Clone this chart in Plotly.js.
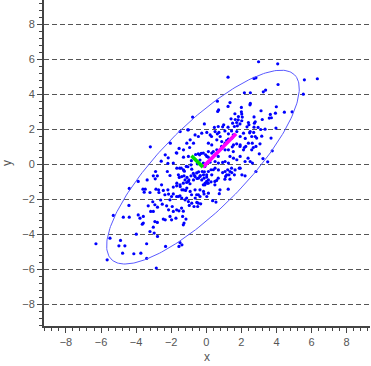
<!DOCTYPE html>
<html>
<head>
<meta charset="utf-8">
<script src="https://cdn.plot.ly/plotly-3.0.1.min.js"></script>
<style>html,body{margin:0;padding:0;background:#fff;}#chart{width:371px;height:366px;}</style>
</head>
<body>
<div id="chart"></div>
<script>
// Scatter points (x, y)
const pointX = [
2.98,4.07,1.24,2.72,2.83,5.59,6.33,4.09,2.17,2.51,3.25,3.38,5.53,0.63,1.35,2.51,2.49,1.24,3.99,2.00,
0.70,0.65,3.12,4.45,4.89,3.94,3.71,1.63,2.00,2.02,1.83,2.05,1.41,2.72,3.59,3.65,3.19,1.65,2.79,2.40,
2.02,1.73,1.92,1.50,0.99,0.93,1.24,2.32,2.72,2.95,3.10,3.35,3.97,2.47,2.70,2.79,3.16,3.69,2.22,0.68,
0.46,-0.11,-0.78,-1.06,-2.05,-3.19,1.77,2.74,2.43,1.82,
2.87,3.02,3.23,3.50,3.76,2.83,3.06,2.83,
-1.49,-1.02,-0.64,-0.45,-0.26,0.03,0.22,0.50,0.63,0.79,1.26,1.45,1.74,1.93,2.12,2.50,2.59,2.25,2.59,
-0.92,-1.11,-0.73,0.12,0.31,0.60,0.88,1.07,1.26,1.55,1.93,2.40,-1.30,-1.68,-1.02,
0.12,0.31,0.60,0.88,1.07,1.26,0.03,0.22,0.50,0.69,1.07,1.26,1.55,1.74,1.93,2.21,2.50,2.63,2.12,
-1.68,-1.30,-0.83,-0.16,0.12,0.31,0.50,0.69,1.07,1.45,1.64,1.93,
-1.59,-1.40,-1.21,-1.02,-0.73,-0.64,-0.45,-0.26,-0.07,0.12,
-1.68,-1.49,-1.30,-1.11,-0.92,-0.64,-0.45,-0.16,0.03,0.12,
-1.59,-1.40,-1.21,-1.02,-0.83,-0.54,
-0.61,-0.46,-0.38,-0.29,-0.17,-0.04,-1.71,-2.34,-2.17,-2.57,-2.19,-1.88,-1.52,-1.43,-1.14,-1.05,-0.87,
-0.74,-0.55,-0.44,-0.23,-0.11,-0.67,-0.34,-0.87,-1.10,-1.27,-1.54,-0.99,-0.13,-0.53,0.02,-3.37,
-0.36,-0.51,-0.85,-1.30,-0.95,-1.55,-1.25,
0.30,0.72,1.06,1.44,1.60,1.54,1.16,1.48,1.73,0.87,0.40,0.68,0.93,1.35,1.54,0.11,0.21,-0.17,-0.08,0.27,
1.22,1.44,1.88,2.38,2.68,2.62,1.92,2.17,2.03,
0.02,0.06,0.27,0.49,0.59,0.49,0.40,0.68,0.93,1.06,1.10,1.16,1.29,1.35,1.35,1.60,2.21,0.78,0.74,1.25,
0.36,0.55,-0.17,-0.36,
-2.89,-2.22,-3.02,-2.79,-2.91,-2.07,-3.88,-4.39,-3.61,-3.48,-3.54,-3.21,-2.87,-2.72,-2.55,-2.70,-2.45,
-2.19,-1.88,-1.69,-1.50,-1.31,-1.12,-0.93,-0.36,-0.08,0.02,0.11,-1.39,-1.18,-0.84,-0.55,-0.36,-0.13,
-2.36,-2.15,-1.98,-1.88,-1.69,-1.50,-1.12,-0.63,-0.46,-0.70,-0.97,-0.49,-0.32,
-3.31,-2.93,-2.78,-2.51,-2.26,-2.15,-1.94,-1.88,-1.69,-1.56,-1.41,-1.31,-3.02,-3.17,-3.88,-3.59,-3.78,
-3.59,-3.65,-2.93,-2.79,-2.45,-2.34,-2.07,-1.98,-1.73,-1.35,-1.16,-1.31,-1.27,-4.41,-4.73,-4.39,-5.30,
-5.49,-4.89,-4.98,-4.64,-4.77,-4.13,-3.73,-3.99,-3.21,-3.02,-2.97,-2.78,-3.40,-3.40,-6.29,-5.65,-2.85,
-2.32,-1.56,-1.50,-1.39,-2.60,-3.05,-2.07
];
const pointY = [
5.85,5.73,4.97,4.90,4.93,4.82,4.88,4.55,4.08,4.08,4.13,4.23,4.00,3.60,3.52,3.47,3.39,3.30,3.28,3.24,
3.10,3.01,3.05,2.97,2.99,2.91,2.65,2.88,2.99,2.86,2.72,2.69,2.59,2.70,2.63,2.84,2.55,2.55,2.42,2.38,
2.48,2.38,2.30,2.34,2.25,2.13,2.11,2.13,2.11,2.10,1.98,2.00,2.06,1.79,1.81,1.58,1.60,1.49,1.47,2.15,
2.10,2.30,2.69,1.96,1.20,0.99,2.19,2.34,2.25,2.53,
1.49,0.59,0.32,0.13,0.76,-0.42,1.16,1.01,
1.86,1.96,1.67,1.58,1.77,1.81,1.67,1.86,1.73,1.58,1.73,1.48,1.86,1.58,1.77,1.86,1.58,1.01,0.82,
1.39,1.20,1.20,1.20,1.10,1.39,1.29,1.20,1.43,1.10,1.10,1.20,0.82,0.63,0.44,
0.72,0.63,0.82,0.91,0.82,0.82,0.44,0.25,0.15,0.06,0.15,0.06,0.34,0.25,0.44,0.15,0.15,0.06,0.82,
-0.23,-0.33,-0.29,-0.61,-0.42,-0.61,-0.23,-0.33,-0.42,-0.48,-0.33,-0.23,
-0.61,-0.71,-0.90,-0.99,-0.90,-0.71,-0.80,-0.90,-1.09,-0.90,
-1.09,-1.28,-1.47,-1.37,-1.56,-1.47,-1.75,-1.56,-1.85,-1.66,
-1.85,-1.94,-2.04,-2.14,-2.23,-2.19,
0.55,0.59,0.53,0.61,0.63,0.53,0.65,0.53,0.36,0.17,0.04,0.06,-0.23,-0.23,-0.13,-0.15,-0.04,
-0.53,-0.50,-0.44,-0.42,-0.44,-0.65,-0.65,-0.67,-0.76,-0.67,-0.76,-0.90,-0.80,-0.82,-0.61,-0.90,
0.23,0.02,0.20,0.40,0.95,0.90,-0.40,
1.58,1.81,1.90,1.90,2.15,1.68,1.35,0.99,1.16,1.01,0.72,0.44,0.10,0.44,0.72,0.40,0.11,0.06,-0.13,-0.32,
-0.32,-0.23,-0.23,0.34,0.95,1.20,1.01,0.95,-0.61,
-0.74,-1.09,-1.01,-0.99,-0.93,-1.18,-0.32,-0.80,-0.48,-0.86,-0.70,-0.61,-0.61,-0.42,-0.86,-0.61,-0.67,-1.47,-1.69,-1.43,
-2.09,-2.17,-1.18,-1.47,
-0.42,-0.42,-0.67,-0.67,-0.84,-0.65,-0.99,-1.39,-1.43,-1.43,-1.60,-1.62,-1.43,-1.47,-1.18,-1.62,-1.50,
-1.47,-1.31,-1.24,-1.18,-1.09,-1.05,-1.12,-0.70,-1.18,-0.99,-1.09,-1.47,-1.50,-1.75,-1.75,-1.85,-1.70,
-1.75,-1.71,-1.85,-1.70,-1.85,-1.81,-1.94,-1.94,-2.23,-2.42,-2.36,-2.42,-2.27,
-2.38,-2.32,-2.46,-2.29,-2.38,-2.61,-2.42,-2.70,-2.61,-2.67,-2.51,-2.69,-2.70,-2.70,-2.90,-2.99,-3.09,
-3.37,-3.43,-3.28,-3.33,-3.14,-3.18,-2.99,-3.18,-3.09,-2.99,-3.14,-3.47,-3.37,-2.36,-3.03,-3.03,-2.93,
-4.23,-4.36,-4.67,-4.67,-5.09,-5.12,-5.09,-4.00,-3.85,-3.60,-3.94,-4.13,-4.55,-5.39,-4.55,-5.47,-5.94,
-4.70,-4.70,-4.48,-4.61,-2.05,-2.15,-2.04
];

// Covariance summary
const center = [-0.19, -0.17];
const majorAngleDeg = 45.3;
const arrowLengths = [2.68, 0.93];   // major, minor eigen-arrows
const ellipseSemiAxes = [7.42, 2.40];
const tickValues = [-8, -6, -4, -2, 0, 2, 4, 6, 8];

const th = majorAngleDeg * Math.PI / 180;
const ex = [], ey = [];
for (let i = 0; i <= 240; i++) {
  const t = 2 * Math.PI * i / 240;
  const u = ellipseSemiAxes[0] * Math.cos(t), v = ellipseSemiAxes[1] * Math.sin(t);
  ex.push(center[0] + u * Math.cos(th) - v * Math.sin(th));
  ey.push(center[1] + u * Math.sin(th) + v * Math.cos(th));
}
const majEnd = [center[0] + arrowLengths[0] * Math.cos(th), center[1] + arrowLengths[0] * Math.sin(th)];
const minEnd = [center[0] - arrowLengths[1] * Math.sin(th), center[1] + arrowLengths[1] * Math.cos(th)];

const traces = [
  {x: pointX, y: pointY, type: 'scatter', mode: 'markers',
   marker: {color: '#0000ff', size: 3.2}, hoverinfo: 'none'},
  {x: ex, y: ey, type: 'scatter', mode: 'lines',
   line: {color: '#5a5aff', width: 1}, hoverinfo: 'none'},
  {x: [center[0], majEnd[0]], y: [center[1], majEnd[1]], type: 'scatter', mode: 'lines',
   line: {color: '#ff00ff', width: 3.6}, hoverinfo: 'none'},
  {x: [center[0], minEnd[0]], y: [center[1], minEnd[1]], type: 'scatter', mode: 'lines',
   line: {color: '#00dd00', width: 3.6}, hoverinfo: 'none'}
];

const tickFont = {family: 'Liberation Sans, Arial, sans-serif', size: 11, color: '#555'};
const baseAxis = {
  tickvals: tickValues, ticktext: tickValues.map(v => v < 0 ? '\u2212' + Math.abs(v) : String(v)),
  ticks: 'outside', ticklen: 5, tickwidth: 1, tickcolor: '#444',
  minor: {ticks: 'outside', ticklen: 3, tickwidth: 1, tickcolor: '#444', dtick: 0.4, tick0: 0, showgrid: false},
  showline: true, linecolor: '#444', linewidth: 2,
  zeroline: false, tickfont: tickFont, fixedrange: true
};

const layout = {
  width: 371, height: 366,
  margin: {l: 44, r: 1, t: 0, b: 40},
  paper_bgcolor: '#fff', plot_bgcolor: '#fff',
  showlegend: false,
  xaxis: Object.assign({}, baseAxis, {
    range: [-9.25, 9.33], showgrid: false,
    title: {text: 'x', font: {family: 'Liberation Sans, Arial, sans-serif', size: 12, color: '#555'}, standoff: 5}
  }),
  yaxis: Object.assign({}, baseAxis, {
    range: [-9.25, 9.38], showgrid: true, gridcolor: '#555', gridwidth: 1, griddash: '5px,3px',
    title: {text: 'y', font: {family: 'Liberation Sans, Arial, sans-serif', size: 12, color: '#555'}, standoff: 8}
  })
};

Plotly.newPlot('chart', traces, layout, {displayModeBar: false, staticPlot: true});
</script>
</body>
</html>
